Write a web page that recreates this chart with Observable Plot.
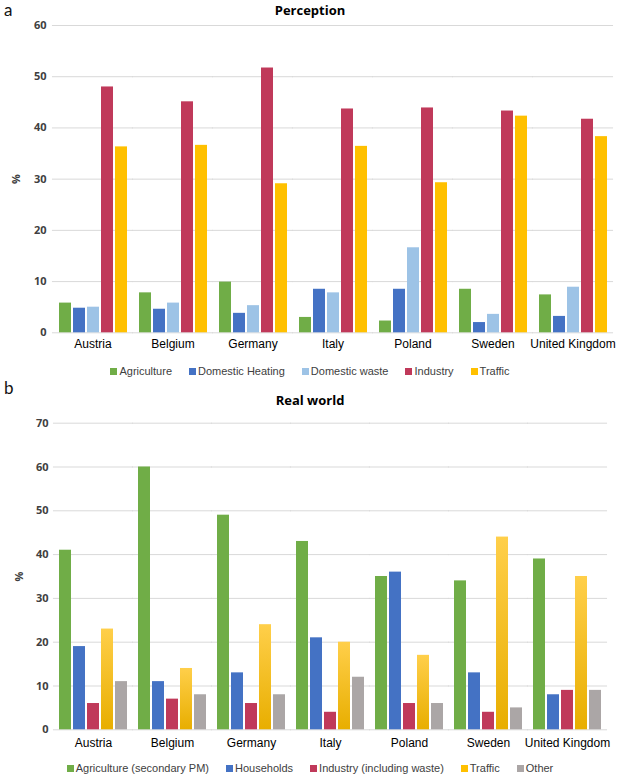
<!DOCTYPE html>
<html>
<head>
<meta charset="utf-8">
<script src="https://cdn.jsdelivr.net/npm/d3@7"></script>
<script src="https://cdn.jsdelivr.net/npm/@observablehq/plot@0.6"></script>
<style>
  body { margin: 0; background: #fff; }
  #root { position: relative; width: 620px; height: 776px; overflow: hidden; font-family: "Liberation Sans", Arial, sans-serif; }
  .tag { position: absolute; left: 4px; font-family: Lato, sans-serif; font-size: 17px; line-height: 16px; color: #111; }
  .title { position: absolute; left: 0; width: 620px; text-align: center; font-family: "Open Sans", sans-serif; font-weight: 700; font-size: 13px; line-height: 18px; color: #000; }
  .chart { position: absolute; left: 0; }
  .legend { position: absolute; left: 0; width: 620px; display: flex; justify-content: center; gap: 17px; font-family: "Liberation Sans", Arial, sans-serif; font-size: 11px; line-height: 14px; color: #404040; }
  .legend .item { display: flex; align-items: center; white-space: nowrap; }
  .legend .sw { display: inline-block; width: 7px; height: 7px; margin-right: 2px; }
</style>
</head>
<body>
<div id="root"></div>
<script>
// ---------- data ----------
const countries = ["Austria", "Belgium", "Germany", "Italy", "Poland", "Sweden", "United Kingdom"];

// Panel a: Perception
const perceptionSources = ["Agriculture", "Domestic Heating", "Domestic waste", "Industry", "Traffic"];
const perceptionAgriculture     = [5.8, 7.8, 9.9, 3.0, 2.3, 8.5, 7.4];
const perceptionDomesticHeating = [4.8, 4.6, 3.8, 8.5, 8.5, 2.0, 3.2];
const perceptionDomesticWaste   = [5.0, 5.8, 5.3, 7.8, 16.6, 3.6, 8.9];
const perceptionIndustry        = [48.0, 45.1, 51.7, 43.7, 43.9, 43.3, 41.7];
const perceptionTraffic         = [36.3, 36.6, 29.1, 36.4, 29.3, 42.3, 38.3];
const perceptionTicks = [0, 10, 20, 30, 40, 50, 60];

// Panel b: Real world
const realSources = ["Agriculture (secondary PM)", "Households", "Industry (including waste)", "Traffic", "Other"];
const realAgriculture = [41, 60, 49, 43, 35, 34, 39];
const realHouseholds  = [19, 11, 13, 21, 36, 13, 8];
const realIndustry    = [6, 7, 6, 4, 6, 4, 9];
const realTraffic     = [23, 14, 24, 20, 17, 44, 35];
const realOther       = [11, 8, 8, 12, 6, 5, 9];
const realTicks = [0, 10, 20, 30, 40, 50, 60, 70];

// colours
const perceptionColors = ["#70AD47", "#4472C4", "#9DC3E6", "#C0395A", "#FFC000"];
const realColors       = ["#70AD47", "#4472C4", "#C0395A", "#FFC000", "#ABA6A6"];
const realFills        = ["#70AD47", "#4472C4", "#C0395A", "url(#trafficGrad)", "#ABA6A6"];

// ---------- build tables ----------
function toRows(sources, seriesList) {
  const rows = [];
  countries.forEach((c, i) => {
    sources.forEach((s, j) => rows.push({country: c, source: s, value: seriesList[j][i]}));
  });
  return rows;
}
const perceptionRows = toRows(perceptionSources,
  [perceptionAgriculture, perceptionDomesticHeating, perceptionDomesticWaste, perceptionIndustry, perceptionTraffic]);
const realRows = toRows(realSources,
  [realAgriculture, realHouseholds, realIndustry, realTraffic, realOther]);

const root = document.getElementById("root");

// gradient defs for the real-world traffic bars
const defs = document.createElementNS("http://www.w3.org/2000/svg", "svg");
defs.setAttribute("width", 0); defs.setAttribute("height", 0);
defs.style.position = "absolute";
defs.innerHTML = `<defs><linearGradient id="trafficGrad" x1="0" y1="0" x2="0" y2="1">
  <stop offset="0" stop-color="#FFCF4A"/><stop offset="1" stop-color="#E8AE00"/></linearGradient></defs>`;
root.appendChild(defs);

function addDiv(cls, text, top) {
  const d = document.createElement("div");
  d.className = cls; d.textContent = text; d.style.top = top + "px";
  root.appendChild(d); return d;
}

const fxPaddingInner = 0.139, fxPaddingOuter = 0.075;

function chart({rows, sources, fills, ticks, yMax, height, marginTop, marginBottom, marginLeft, marginRight, yPad, fxPad, labelOffset}) {
  // extend each facet's gridlines over half the gap between groups so they read as continuous lines
  const step = (620 - marginLeft - marginRight) / (countries.length - fxPaddingInner + 2 * fxPaddingOuter);
  const ext = -step * fxPaddingInner / 2 - 0.5;
  return Plot.plot({
    width: 620, height, marginTop, marginBottom, marginLeft, marginRight,
    style: {fontFamily: "'Liberation Sans', Arial, sans-serif", fontSize: "12px", color: "#000", background: "transparent", overflow: "visible"},
    fx: {domain: countries, paddingInner: fxPaddingInner, paddingOuter: fxPaddingOuter, label: null},
    x: {domain: sources, paddingInner: 0.15, paddingOuter: 0, axis: null},
    y: {domain: [0, yMax]},
    color: {domain: sources, range: fills},
    marks: [
      Plot.ruleY(ticks, {y: d => d, stroke: "#D9D9D9", strokeWidth: 1, insetLeft: ext, insetRight: ext}),
      Plot.barY(rows, {fx: "country", x: "source", y: "value", fill: "source"}),
      Plot.axisY(ticks, {tickSize: 0, tickPadding: yPad, fontFamily: "'Open Sans', sans-serif", fontWeight: "bold", fontSize: 11, color: "#404040",
        label: "%", labelAnchor: "center", labelOffset, labelArrow: false}),
      Plot.axisFx({anchor: "bottom", tickSize: 0, tickPadding: fxPad, label: null, fontSize: 12, color: "#000"})
    ]
  });
}

function legend(sources, colors, top) {
  const d = document.createElement("div");
  d.className = "legend"; d.style.top = top + "px";
  sources.forEach((s, i) => {
    const it = document.createElement("span"); it.className = "item";
    const sw = document.createElement("span"); sw.className = "sw"; sw.style.background = colors[i];
    it.appendChild(sw); it.appendChild(document.createTextNode(s));
    d.appendChild(it);
  });
  root.appendChild(d);
}

// ---------- panel a ----------
addDiv("tag", "a", 2);
addDiv("title", "Perception", 1);
const ca = chart({rows: perceptionRows, sources: perceptionSources, fills: perceptionColors, ticks: perceptionTicks, yMax: 60,
  height: 340, marginTop: 7, marginBottom: 25.7, marginLeft: 52, marginRight: 7, yPad: 12, fxPad: 6.5, labelOffset: 46});
ca.classList.add("chart"); ca.style.top = "18px"; root.appendChild(ca);
legend(perceptionSources, perceptionColors, 364);

// ---------- panel b ----------
addDiv("tag", "b", 380);
addDiv("title", "Real world", 391);
const cb = chart({rows: realRows, sources: realSources, fills: realFills, ticks: realTicks, yMax: 70,
  height: 340, marginTop: 7.7, marginBottom: 25.7, marginLeft: 50, marginRight: 10, yPad: 11, fxPad: 9, labelOffset: 44});
cb.classList.add("chart"); cb.style.top = "415px"; root.appendChild(cb);
legend(realSources, realColors, 761);
</script>
</body>
</html>
